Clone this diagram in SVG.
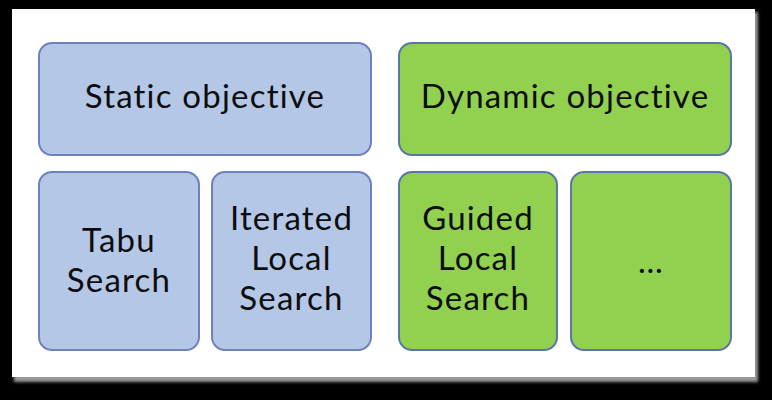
<svg xmlns="http://www.w3.org/2000/svg" width="772" height="400" viewBox="0 0 772 400">
  <defs>
    <filter id="soft" x="-5%" y="-5%" width="110%" height="110%">
      <feGaussianBlur stdDeviation="1.5"/>
    </filter>
  </defs>
  <style>
    .box { stroke-width: 2; }
    .static { fill: #b4c7e7; stroke: #6f80bb; }
    .dynamic { fill: #92d050; stroke: #5a76a8; }
    text { font-family: Lato, "Open Sans", sans-serif; font-size: 33px; fill: #0d0d0d; text-anchor: middle; letter-spacing: 1.2px; }
  </style>

  <!-- backdrop and panel -->
  <rect x="0" y="0" width="772" height="400" fill="#000000"/>
  <rect x="14" y="12" width="744" height="370" fill="#9a9a9a" filter="url(#soft)"/>
  <rect x="12" y="9" width="743" height="368" fill="#ffffff"/>

  <g id="static-objective">
    <rect class="box static" x="39" y="43" width="332" height="112" rx="13"/>
    <text x="205" y="108">Static objective</text>
  </g>

  <g id="dynamic-objective">
    <rect class="box dynamic" x="399" y="43" width="332" height="112" rx="13"/>
    <text x="565" y="108">Dynamic objective</text>
  </g>

  <g id="tabu-search">
    <rect class="box static" x="39" y="172" width="160" height="178" rx="13"/>
    <text x="119" y="252">Tabu</text>
    <text x="119" y="292">Search</text>
  </g>

  <g id="iterated-local-search">
    <rect class="box static" x="212" y="172" width="159" height="178" rx="13"/>
    <text x="291.5" y="230">Iterated</text>
    <text x="291.5" y="270">Local</text>
    <text x="291.5" y="310">Search</text>
  </g>

  <g id="guided-local-search">
    <rect class="box dynamic" x="399" y="172" width="158" height="178" rx="13"/>
    <text x="478" y="230">Guided</text>
    <text x="478" y="270">Local</text>
    <text x="478" y="310">Search</text>
  </g>

  <g id="more-methods">
    <rect class="box dynamic" x="571" y="172" width="160" height="178" rx="13"/>
    <text x="651" y="273">…</text>
  </g>

  <g id="connectors"/>
</svg>
